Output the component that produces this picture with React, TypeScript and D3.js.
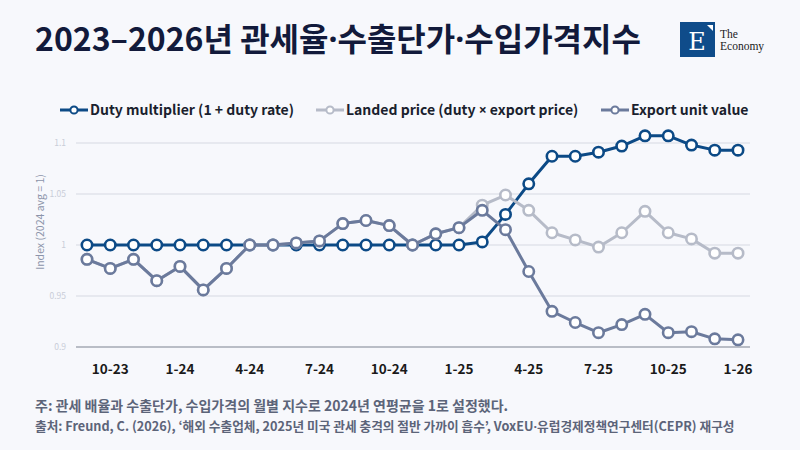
import React from "react";
import * as d3 from "d3";

const months = [
  "9-23","10-23","11-23","12-23","1-24","2-24","3-24","4-24","5-24","6-24","7-24","8-24",
  "9-24","10-24","11-24","12-24","1-25","2-25","3-25","4-25","5-25","6-25","7-25","8-25",
  "9-25","10-25","11-25","12-25","1-26",
];
const tickLabels = ["10-23","1-24","4-24","7-24","10-24","1-25","4-25","7-25","10-25","1-26"];
const yTicks = [0.9, 0.95, 1, 1.05, 1.1];

const dutyMultiplier = [
  1,1,1,1,1,1,1,1,1,1,1,1,1,1,1,1,1,1.003,1.03,1.06,1.087,1.087,1.091,1.097,1.107,1.107,1.098,1.093,1.093,
];
const landedPrice = [
  0.986,0.977,0.986,0.965,0.979,0.956,0.977,1.0,1.0,1.002,1.004,1.021,1.024,1.019,1.0,1.011,1.017,1.039,1.049,1.034,1.012,1.005,0.998,1.012,1.033,1.012,1.006,0.992,0.992,
];
const exportUnitValue = [
  0.986,0.977,0.986,0.965,0.979,0.956,0.977,1.0,1.0,1.002,1.004,1.021,1.024,1.019,1.0,1.011,1.017,1.034,1.015,0.974,0.935,0.924,0.914,0.922,0.932,0.914,0.915,0.908,0.907,
];

const seriesNames = [
  ["Duty multiplier (1 + duty rate)"],
  ["Landed price (duty ", "×", " export price)"],
  ["Export unit value"],
];
const seriesColors = ["#0c4a86", "#b6bbc8", "#6b7a9c"];

const FONT = "'Noto Sans CJK KR', 'Noto Sans', sans-serif";
const LATIN = "'Noto Sans', 'DejaVu Sans', sans-serif";

export default function App() {
  const W = 800, H = 450;
  const x = d3.scaleLinear().domain([0, months.length - 1]).range([87, 738]);
  const y = d3.scaleLinear().domain([0.9, 1.1]).range([347, 143]);
  const line = d3.line<number>().x((_, i) => x(i)).y((d) => y(d));
  const series = [dutyMultiplier, landedPrice, exportUnitValue];
  const legendX = [60, 316, 601];

  const Dot = () => <tspan fontFamily={LATIN}>·</tspan>;

  return (
    <svg width={W} height={H} style={{ position: "absolute", left: 0, top: 0, display: "block" }}>
      <rect width={W} height={H} fill="#f7f8fc" />
      <text x={35} y={51} fontFamily={FONT} fontWeight={700} fontSize={32} fill="#121a3b">
        2023–2026년 관세율<Dot />수출단가<Dot />수입가격지수
      </text>
      {/* logo */}
      <rect x={680} y={22} width={35} height={35} fill="#0f4c8a" />
      <polygon points="707,25 713,25 713,31" fill="#ffffff" />
      <text x={697} y={50} textAnchor="middle" fontFamily="'DejaVu Serif', 'Liberation Serif', serif" fontSize={24} fill="#ffffff">E</text>
      <text x={720} y={38} fontFamily="'Liberation Serif', serif" fontSize={11.5} fill="#222">The</text>
      <text x={720} y={50} fontFamily="'Liberation Serif', serif" fontSize={11.5} fill="#222">Economy</text>

      {/* legend */}
      {seriesNames.map((parts, i) => (
        <g key={i}>
          <line x1={legendX[i]} x2={legendX[i] + 28} y1={110} y2={110} stroke={seriesColors[i]} strokeWidth={3} />
          <circle cx={legendX[i] + 14} cy={110} r={3.6} fill="#fff" stroke={seriesColors[i]} strokeWidth={2} />
          <text x={legendX[i] + 30} y={115} fontFamily={FONT} fontWeight={700} fontSize={14} fill="#1a1f2e">
            {parts.map((p, k) =>
              p === "×" ? <tspan key={k} fontFamily={LATIN}>{p}</tspan> : <tspan key={k}>{p}</tspan>
            )}
          </text>
        </g>
      ))}

      {/* grid */}
      {yTicks.map((t) => (
        <g key={t}>
          <line x1={76} x2={750} y1={y(t)} y2={y(t)} stroke={t === 0.9 ? "#7d8190" : "#d6d9e2"} strokeWidth={t === 0.9 ? 1.2 : 1} />
          <text x={66} y={y(t) + 3} textAnchor="end" fontFamily={FONT} fontSize={8.5} fill="#c9cdd8">{String(t)}</text>
        </g>
      ))}
      <text transform={`translate(44,222) rotate(-90)`} textAnchor="middle" fontFamily={FONT} fontSize={10.5} fill="#8c94aa">
        Index (2024 avg = 1)
      </text>

      {/* x ticks */}
      {months.map((m, i) =>
        tickLabels.includes(m) ? (
          <text key={m} x={x(i)} y={374} textAnchor="middle" fontFamily={FONT} fontWeight={700} fontSize={13.5} fill="#1a1a1a">{m}</text>
        ) : null
      )}

      {/* series */}
      {series.map((s, si) => (
        <g key={si}>
          <path d={line(s) || ""} fill="none" stroke={seriesColors[si]} strokeWidth={3} strokeLinejoin="round" />
          {s.map((v, i) => (
            <circle key={i} cx={x(i)} cy={y(v)} r={5.2} fill="#fff" stroke={seriesColors[si]} strokeWidth={2.6} />
          ))}
        </g>
      ))}

      {/* footer */}
      <text x={35} y={411} fontFamily={FONT} fontWeight={700} fontSize={14} fill="#5c6479">
        주: 관세 배율과 수출단가, 수입가격의 월별 지수로 2024년 연평균을 1로 설정했다.
      </text>
      <text x={35} y={431} fontFamily={FONT} fontWeight={700} fontSize={12.7} fill="#5c6479">
        출처: Freund, C. (2026), ‘해외 수출업체, 2025년 미국 관세 충격의 절반 가까이 흡수’, VoxEU<Dot />유럽경제정책연구센터(CEPR) 재구성
      </text>
    </svg>
  );
}
